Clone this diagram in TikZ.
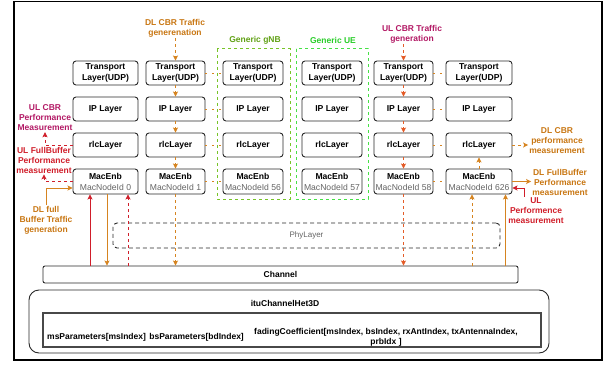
\documentclass[tikz,border=0pt]{standalone}
\usepackage{fontspec}
\setmainfont{Liberation Sans}
\usepackage{tikz}
\usetikzlibrary{arrows.meta, positioning}
\definecolor{dlorange}{RGB}{214,132,32}
\definecolor{dltext}{RGB}{200,118,18}
\definecolor{ulmagenta}{RGB}{178,24,100}
\definecolor{ulred}{RGB}{208,30,42}
\definecolor{ulorange}{RGB}{228,92,40}
\definecolor{gnbgreen}{RGB}{120,196,40}
\definecolor{gnbtext}{RGB}{96,160,20}
\definecolor{uegreen}{RGB}{70,225,70}
\definecolor{uetext}{RGB}{40,205,40}
\definecolor{nodegray}{RGB}{100,100,100}
\definecolor{boxgray}{RGB}{40,40,40}
\newcommand{\nodeid}[1]{{\mdseries\color{nodegray}#1}}
\tikzstyle{layerbox} = [draw=boxgray, line width=0.9pt, rounded corners=3pt, minimum height=24pt, inner sep=1pt, align=center, font=\fontsize{8.6}{11}\selectfont\bfseries]
\tikzstyle{notetext} = [align=center, inner sep=1pt, font=\fontsize{8.5}{10}\selectfont\bfseries]
\tikzstyle{dldash} = [draw=dlorange, line width=0.9pt, dash pattern=on 3pt off 3pt, -{Stealth[length=5pt,width=5pt,inset=1pt]}]
\tikzstyle{dlsolid} = [draw=dlorange, line width=0.9pt, -{Stealth[length=5pt,width=5pt,inset=1pt]}]
\tikzstyle{uldash} = [draw=ulred, line width=0.9pt, dash pattern=on 3pt off 3pt, -{Stealth[length=5pt,width=5pt,inset=1pt]}]
\tikzstyle{ulsolid} = [draw=ulred, line width=0.9pt, -{Stealth[length=5pt,width=5pt,inset=1pt]}]
\tikzstyle{ulchain} = [draw=ulorange, line width=0.9pt, dash pattern=on 3pt off 3pt, -{Stealth[length=5pt,width=5pt,inset=1pt]}]
\tikzstyle{samelink} = [draw=dlorange, line width=0.9pt, dash pattern=on 2pt off 5pt]
\tikzstyle{phybox} = [draw=boxgray, line width=0.9pt, dash pattern=on 4pt off 3pt, rounded corners=4pt, text=nodegray, font=\fontsize{8}{10}\selectfont]
\tikzstyle{chanbox} = [draw=boxgray, line width=0.9pt, rounded corners=2pt, font=\fontsize{8.5}{10}\selectfont\bfseries]

\begin{document}
\begin{tikzpicture}[x=1pt, y=-1pt]
	\useasboundingbox (0,0) rectangle (609,366);
	\draw[line width=1.3pt] (14,1.5) rectangle (602,360);

	% generic gNB / UE frames
	\draw[draw=gnbgreen, line width=1pt, dash pattern=on 3pt off 3pt] (217,49) rectangle (290,199);
	\draw[draw=uegreen, line width=1pt, dash pattern=on 3pt off 3pt] (296,49) rectangle (368,199);
	\node[notetext, text=gnbtext] (gnbtitle) at (255,40) {Generic gNB};
	\node[notetext, text=uetext] (uetitle) at (333,40) {Generic UE};

	% protocol stacks
	\node[layerbox, minimum width=65pt] (tr1) at (105.5,73) {Transport\\Layer(UDP)};
	\node[layerbox, minimum width=59pt] (tr2) at (175.5,73) {Transport\\Layer(UDP)};
	\node[layerbox, minimum width=60pt] (tr3) at (253,73) {Transport\\Layer(UDP)};
	\node[layerbox, minimum width=60pt] (tr4) at (332,73) {Transport\\Layer(UDP)};
	\node[layerbox, minimum width=59pt] (tr5) at (403.5,73) {Transport\\Layer(UDP)};
	\node[layerbox, minimum width=66pt] (tr6) at (479,73) {Transport\\Layer(UDP)};
	\node[layerbox, minimum width=65pt] (ip1) at (105.5,109) {IP Layer};
	\node[layerbox, minimum width=59pt] (ip2) at (175.5,109) {IP Layer};
	\node[layerbox, minimum width=60pt] (ip3) at (253,109) {IP Layer};
	\node[layerbox, minimum width=60pt] (ip4) at (332,109) {IP Layer};
	\node[layerbox, minimum width=59pt] (ip5) at (403.5,109) {IP Layer};
	\node[layerbox, minimum width=66pt] (ip6) at (479,109) {IP Layer};
	\node[layerbox, minimum width=65pt] (rlc1) at (105.5,145) {rlcLayer};
	\node[layerbox, minimum width=59pt] (rlc2) at (175.5,145) {rlcLayer};
	\node[layerbox, minimum width=60pt] (rlc3) at (253,145) {rlcLayer};
	\node[layerbox, minimum width=60pt] (rlc4) at (332,145) {rlcLayer};
	\node[layerbox, minimum width=59pt] (rlc5) at (403.5,145) {rlcLayer};
	\node[layerbox, minimum width=66pt] (rlc6) at (479,145) {rlcLayer};
	\node[layerbox, minimum width=65pt, minimum height=25pt] (mac1) at (105.5,181.5) {MacEnb\\\nodeid{MacNodeId 0}};
	\node[layerbox, minimum width=59pt, minimum height=25pt] (mac2) at (175.5,181.5) {MacEnb\\\nodeid{MacNodeId 1}};
	\node[layerbox, minimum width=60pt, minimum height=25pt] (mac3) at (253,181.5) {MacEnb\\\nodeid{MacNodeId 56}};
	\node[layerbox, minimum width=60pt, minimum height=25pt] (mac4) at (332,181.5) {MacEnb\\\nodeid{MacNodeId 57}};
	\node[layerbox, minimum width=59pt, minimum height=25pt] (mac5) at (403.5,181.5) {MacEnb\\\nodeid{MacNodeId 58}};
	\node[layerbox, minimum width=66pt, minimum height=25pt] (mac6) at (479,181.5) {MacEnb\\\nodeid{MacNodeId 626}};

	% phy, channel, itu
	\node[phybox, minimum width=387pt, minimum height=25pt] (phy) at (306.5,235.5) {PhyLayer};
	\node[chanbox, minimum width=475pt, minimum height=17pt] (chan) at (280.5,274.5) {Channel};
	\node[draw=boxgray, line width=0.9pt, rounded corners=10pt, minimum width=520pt, minimum height=63pt] (itu) at (289,321.5) {};
	\node[notetext] (itutitle) at (285,303) {ituChannelHet3D};
	\node[draw=boxgray!85, line width=1.2pt, minimum width=498pt, minimum height=34pt] (params) at (292,330) {};
	\node[notetext, anchor=west] (msp) at (46,337) {msParameters[msIndex]};
	\node[notetext, right=1pt of msp] (bsp) {bsParameters[bdIndex]};
	\node[notetext] (fading) at (386,337) {fadingCoefficient[msIndex, bsIndex, rxAntIndex, txAntennaIndex,\\prbIdx ]};

	% traffic labels
	\node[notetext, text=dltext] (dlcbr) at (175,28) {DL CBR Traffic\\generenation};
	\node[notetext, text=ulmagenta] (ulcbrgen) at (412,34) {UL CBR Traffic\\generation};
	\node[notetext, text=ulmagenta] (ulcbrm) at (45,118) {UL CBR\\Performance\\Measurement};
	\node[notetext, text=ulred] (ulfbm) at (44,160) {UL FullBuffer\\Performance\\measurement};
	\node[notetext, text=dltext] (dlfull) at (46,220) {DL full\\Buffer Traffic\\generation};
	\node[notetext, text=dltext] (dlcbrm) at (557,141) {DL CBR\\performance\\measurement};
	\node[notetext, text=dltext] (dlfbm) at (560,182) {DL FullBuffer\\Performance\\measurement};
	\node[notetext, text=ulred] (ulperf) at (536,211) {UL\\Performence\\measurement};

	% DL CBR path
	\draw[dldash] (tr2.north |- dlcbr.south) -- (tr2.north);
	\draw[dldash] (tr2) -- (ip2);
	\draw[dldash] (ip2) -- (rlc2);
	\draw[dldash] (rlc2) -- (mac2);
	\draw[dldash] (mac2) -- (mac2 |- chan.north);
	% UL CBR path
	\draw[ulchain] (tr5.north |- ulcbrgen.south) -- (tr5.north);
	\draw[ulchain] (tr5) -- (ip5);
	\draw[ulchain] (ip5) -- (rlc5);
	\draw[ulchain] (rlc5) -- (mac5);
	\draw[ulchain] (mac5) -- (mac5 |- chan.north);

	% peer links
	\draw[samelink] (tr2) -- (tr3);
	\draw[samelink] (ip2) -- (ip3);
	\draw[samelink] (rlc2) -- (rlc3);
	\draw[samelink] (mac2) -- (mac3);
	\draw[samelink] (tr5) -- (tr6);
	\draw[samelink] (ip5) -- (ip6);
	\draw[samelink] (rlc5) -- (rlc6);
	\draw[samelink] (mac5) -- (mac6);

	% node 0
	\draw[uldash] (rlc1.west) -| (ulcbrm.south);
	\draw[uldash] (mac1.west) -| (ulfbm.south);
	\draw[dlsolid] (dlfull.north) |- ([yshift=-6.5pt]mac1.west);
	\coordinate (m1a) at ([xshift=-15.5pt]mac1.south);
	\coordinate (m1b) at ([xshift=1.5pt]mac1.south);
	\coordinate (m1c) at ([xshift=22.5pt]mac1.south);
	\draw[ulsolid] (m1a |- chan.north) -- (m1a);
	\draw[dlsolid] (m1b) -- (m1b |- chan.north);
	\draw[uldash] (m1c |- chan.north) -- (m1c);

	% node 626
	\draw[dldash] (mac6) -- (rlc6);
	\draw[dldash] (rlc6.east) -- (rlc6.east -| dlcbrm.west);
	\draw[dlsolid] (mac6.east) -- (mac6.east -| dlfbm.west);
	\draw[ulsolid] ([xshift=-12pt]ulperf.north) |- ([yshift=-6.5pt]mac6.east);
	\coordinate (m6a) at ([xshift=-7pt]mac6.south);
	\coordinate (m6b) at ([xshift=26.5pt]mac6.south);
	\draw[dldash] (m6a |- chan.north) -- (m6a);
	\draw[dlsolid] (m6b |- chan.north) -- (m6b);
\end{tikzpicture}
\end{document}
